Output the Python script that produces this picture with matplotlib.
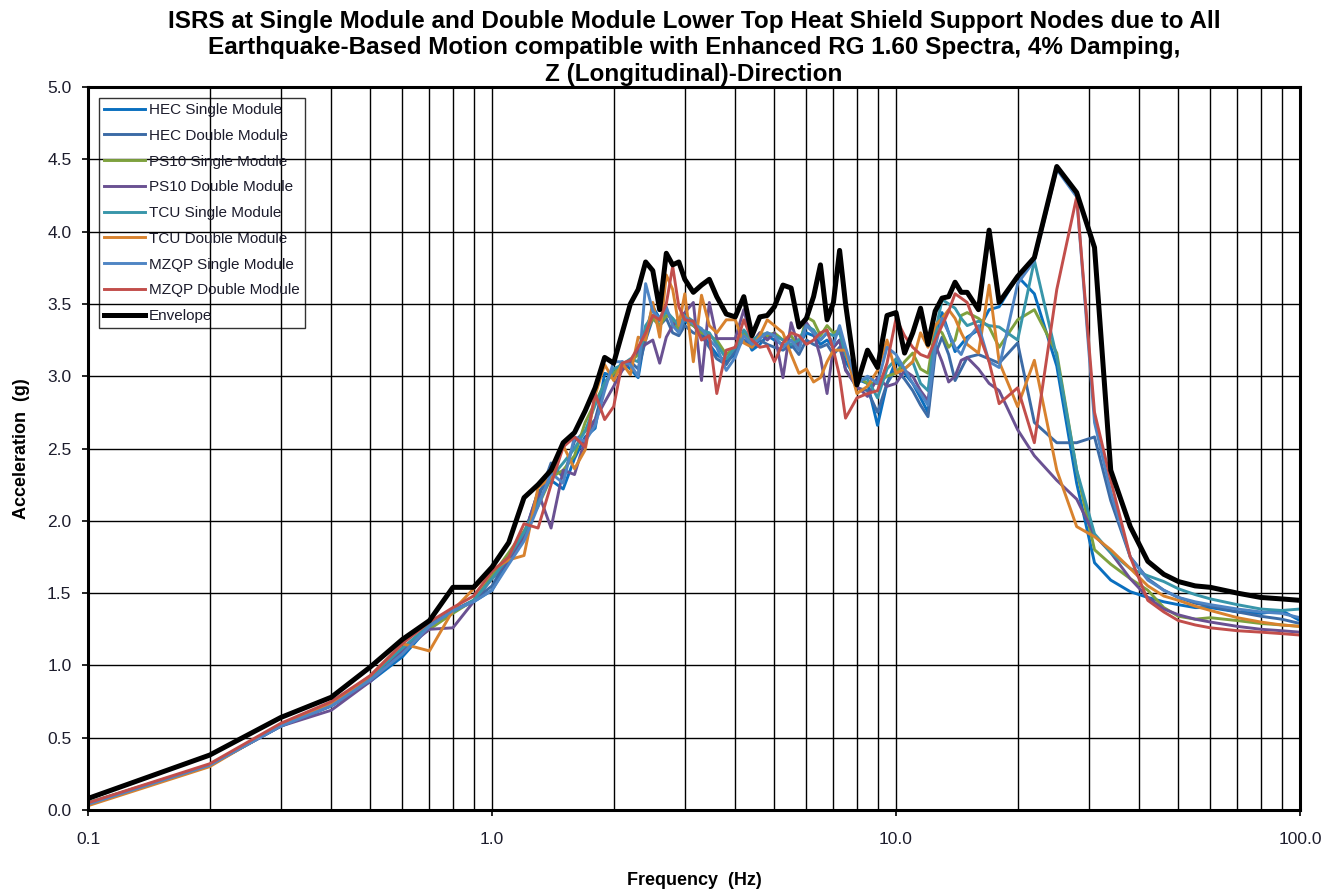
import matplotlib
matplotlib.use("Agg")
import matplotlib.pyplot as plt
from matplotlib.ticker import FixedLocator, NullFormatter

plt.rcParams['font.family'] = ['Liberation Sans', 'DejaVu Sans']

# frequencies (Hz) shared by every spectrum
freq = [0.1, 0.2, 0.3, 0.4, 0.5, 0.6, 0.7, 0.8, 0.9, 1.0,
        1.1, 1.2, 1.3, 1.4, 1.5, 1.6, 1.7, 1.8, 1.9, 2.0,
        2.1, 2.2, 2.3, 2.4, 2.5, 2.6, 2.7, 2.8, 2.9, 3.0,
        3.15, 3.3, 3.45, 3.6, 3.8, 4.0, 4.2, 4.4, 4.6, 4.8,
        5.0, 5.25, 5.5, 5.75, 6.0, 6.25, 6.5, 6.75, 7.0, 7.25,
        7.5, 8.0, 8.5, 9.0, 9.5, 10.0, 10.5, 11.0, 11.5, 12.0,
        12.5, 13.0, 13.5, 14.0, 14.5, 15.0, 16.0, 17.0, 18.0, 20.0,
        22.0, 25.0, 28.0, 31.0, 34.0, 38.0, 42.0, 46.0, 50.0, 55.0,
        60.0, 70.0, 80.0, 90.0, 100.0]

hec_single = [0.04, 0.31, 0.58, 0.72, 0.89, 1.06, 1.27, 1.38, 1.44, 1.52,
              1.72, 1.90, 2.20, 2.28, 2.22, 2.43, 2.58, 2.64, 3.02, 3.00,
              3.10, 3.05, 2.99, 3.30, 3.48, 3.40, 3.45, 3.38, 3.30, 3.38,
              3.35, 3.30, 3.22, 3.15, 3.10, 3.15, 3.30, 3.18, 3.22, 3.28,
              3.25, 3.22, 3.20, 3.22, 3.30, 3.28, 3.22, 3.25, 3.20, 3.25,
              3.10, 2.98, 2.95, 2.66, 2.95, 3.11, 3.02, 2.95, 2.85, 2.75,
              3.23, 3.44, 3.30, 3.17, 3.22, 3.27, 3.32, 3.46, 3.48, 3.69,
              3.57, 3.07, 2.26, 1.71, 1.59, 1.51, 1.47, 1.44, 1.42, 1.40,
              1.40, 1.37, 1.36, 1.38, 1.31]

hec_double = [0.04, 0.31, 0.58, 0.72, 0.90, 1.08, 1.28, 1.38, 1.45, 1.55,
              1.75, 1.88, 2.15, 2.40, 2.30, 2.55, 2.62, 2.70, 2.95, 3.05,
              3.05, 3.10, 3.05, 3.25, 3.40, 3.35, 3.40, 3.30, 3.28, 3.35,
              3.30, 3.28, 3.20, 3.12, 3.08, 3.18, 3.25, 3.20, 3.25, 3.22,
              3.20, 3.18, 3.22, 3.15, 3.25, 3.22, 3.20, 3.22, 3.15, 3.20,
              3.05, 2.92, 2.90, 2.75, 2.95, 3.05, 2.98, 2.90, 2.80, 2.72,
              3.15, 3.27, 3.15, 2.97, 3.05, 3.13, 3.15, 3.12, 3.09, 3.23,
              2.68, 2.54, 2.54, 2.58, 2.14, 1.75, 1.60, 1.52, 1.47, 1.43,
              1.41, 1.37, 1.34, 1.32, 1.29]

ps10_single = [0.05, 0.31, 0.59, 0.73, 0.92, 1.12, 1.25, 1.36, 1.45, 1.62,
               1.78, 1.93, 2.10, 2.30, 2.35, 2.45, 2.68, 2.82, 2.95, 3.02,
               3.08, 3.10, 3.15, 3.30, 3.40, 3.35, 3.42, 3.40, 3.32, 3.40,
               3.35, 3.30, 3.28, 3.25, 3.15, 3.20, 3.30, 3.22, 3.30, 3.28,
               3.30, 3.25, 3.28, 3.20, 3.41, 3.38, 3.28, 3.35, 3.30, 3.32,
               3.15, 3.00, 2.95, 2.95, 3.00, 3.02, 3.10, 3.16, 3.05, 3.02,
               3.34, 3.30, 3.20, 3.25, 3.42, 3.44, 3.40, 3.34, 3.20, 3.39,
               3.46, 3.16, 2.35, 1.80, 1.70, 1.60, 1.52, 1.40, 1.34, 1.32,
               1.33, 1.31, 1.29, 1.28, 1.27]

ps10_double = [0.04, 0.31, 0.58, 0.69, 0.89, 1.10, 1.25, 1.26, 1.44, 1.60,
               1.73, 1.90, 2.20, 1.95, 2.35, 2.32, 2.56, 2.70, 2.82, 2.93,
               3.04, 3.10, 3.18, 3.22, 3.25, 3.09, 3.27, 3.35, 3.40, 3.44,
               3.51, 2.97, 3.51, 3.26, 3.26, 3.26, 3.46, 3.23, 3.30, 3.25,
               3.30, 2.99, 3.37, 3.20, 3.37, 3.30, 3.13, 2.88, 3.20, 3.25,
               3.04, 2.93, 2.86, 2.99, 2.93, 2.95, 3.04, 3.00, 2.90, 2.83,
               3.22, 3.10, 2.96, 3.00, 3.11, 3.13, 3.05, 2.95, 2.90, 2.63,
               2.45, 2.28, 2.15, 1.90, 1.78, 1.60, 1.47, 1.39, 1.35, 1.32,
               1.30, 1.27, 1.25, 1.24, 1.23]

tcu_single = [0.05, 0.31, 0.59, 0.73, 0.92, 1.12, 1.28, 1.37, 1.45, 1.60,
              1.75, 1.92, 2.12, 2.30, 2.40, 2.50, 2.62, 2.80, 2.95, 3.05,
              3.08, 3.12, 3.10, 3.35, 3.42, 3.38, 3.45, 3.40, 3.35, 3.42,
              3.38, 3.32, 3.30, 3.22, 3.12, 3.20, 3.32, 3.25, 3.28, 3.30,
              3.28, 3.25, 3.22, 3.25, 3.35, 3.32, 3.25, 3.30, 3.28, 3.30,
              3.15, 2.98, 2.98, 2.85, 3.05, 3.12, 3.05, 3.10, 2.95, 2.90,
              3.30, 3.53, 3.50, 3.47, 3.40, 3.35, 3.38, 3.35, 3.34, 3.25,
              3.80, 3.13, 2.35, 1.91, 1.78, 1.67, 1.62, 1.58, 1.53, 1.49,
              1.46, 1.42, 1.39, 1.38, 1.39]

tcu_double = [0.03, 0.30, 0.59, 0.73, 0.93, 1.15, 1.10, 1.38, 1.53, 1.66,
              1.73, 1.76, 2.23, 2.30, 2.52, 2.36, 2.49, 2.87, 3.08, 2.97,
              3.09, 3.01, 3.27, 3.25, 3.51, 3.27, 3.70, 3.60, 3.35, 3.57,
              3.10, 3.56, 3.35, 3.30, 3.39, 3.39, 3.23, 3.20, 3.28, 3.39,
              3.35, 3.30, 3.15, 3.02, 3.05, 2.96, 2.99, 3.10, 3.18, 3.18,
              3.18, 2.88, 2.93, 3.04, 3.25, 3.02, 3.05, 3.10, 3.30, 3.20,
              3.35, 3.40, 3.46, 3.40, 3.30, 3.22, 3.16, 3.63, 3.10, 2.79,
              3.11, 2.35, 1.96, 1.89, 1.80, 1.67, 1.55, 1.48, 1.45, 1.41,
              1.38, 1.33, 1.30, 1.28, 1.27]

mzqp_single = [0.04, 0.31, 0.58, 0.72, 0.90, 1.08, 1.27, 1.38, 1.44, 1.52,
               1.70, 1.86, 2.10, 2.33, 2.26, 2.58, 2.55, 2.66, 2.90, 3.10,
               3.10, 3.08, 3.00, 3.64, 3.45, 3.40, 3.48, 3.35, 3.30, 3.41,
               3.36, 3.33, 3.25, 3.20, 3.04, 3.13, 3.28, 3.22, 3.26, 3.30,
               3.28, 3.20, 3.25, 3.18, 3.35, 3.30, 3.25, 3.30, 3.22, 3.35,
               3.20, 2.95, 3.00, 2.95, 3.20, 3.15, 3.05, 2.95, 2.88, 2.80,
               3.20, 3.40, 3.30, 3.20, 3.15, 3.25, 3.35, 3.10, 3.06, 3.64,
               3.80, 4.43, 4.24, 2.68, 2.20, 1.75, 1.59, 1.52, 1.47, 1.44,
               1.42, 1.39, 1.37, 1.36, 1.33]

mzqp_double = [0.05, 0.32, 0.60, 0.75, 0.93, 1.15, 1.30, 1.40, 1.48, 1.65,
               1.75, 1.98, 1.95, 2.25, 2.51, 2.58, 2.51, 2.88, 2.70, 2.79,
               3.09, 3.11, 3.20, 3.30, 3.42, 3.39, 3.50, 3.76, 3.48, 3.39,
               3.38, 3.25, 3.28, 2.88, 3.18, 3.20, 3.39, 3.25, 3.20, 3.21,
               3.10, 3.23, 3.30, 3.28, 3.22, 3.25, 3.30, 3.32, 3.18, 3.00,
               2.71, 2.85, 2.88, 2.90, 3.09, 3.40, 3.28, 3.20, 3.15, 3.13,
               3.25, 3.35, 3.45, 3.57, 3.54, 3.51, 3.30, 3.10, 2.81, 2.92,
               2.54, 3.60, 4.24, 2.75, 2.28, 1.75, 1.45, 1.37, 1.31, 1.28,
               1.26, 1.24, 1.23, 1.22, 1.21]

envelope = [0.08, 0.38, 0.64, 0.78, 0.99, 1.18, 1.31, 1.54, 1.54, 1.68,
            1.85, 2.16, 2.25, 2.35, 2.54, 2.61, 2.76, 2.92, 3.13, 3.09,
            3.30, 3.50, 3.60, 3.79, 3.73, 3.46, 3.85, 3.77, 3.79, 3.67,
            3.58, 3.63, 3.67, 3.55, 3.43, 3.41, 3.55, 3.28, 3.41, 3.42,
            3.48, 3.63, 3.61, 3.34, 3.40, 3.55, 3.77, 3.39, 3.51, 3.87,
            3.50, 2.94, 3.18, 3.06, 3.42, 3.44, 3.16, 3.30, 3.47, 3.22,
            3.45, 3.54, 3.55, 3.65, 3.58, 3.58, 3.46, 4.01, 3.51, 3.69,
            3.82, 4.45, 4.27, 3.89, 2.35, 1.96, 1.72, 1.63, 1.58, 1.55,
            1.54, 1.50, 1.47, 1.46, 1.45]

series = [
    ("HEC Single Module", hec_single, "#0A6FBF"),
    ("HEC Double Module", hec_double, "#3C6BA6"),
    ("PS10 Single Module", ps10_single, "#7EA13E"),
    ("PS10 Double Module", ps10_double, "#6A5192"),
    ("TCU Single Module", tcu_single, "#3896AA"),
    ("TCU Double Module", tcu_double, "#D8822E"),
    ("MZQP Single Module", mzqp_single, "#4F85C4"),
    ("MZQP Double Module", mzqp_double, "#C24E4B"),
]

txt_col = "#1c1c2c"

fig = plt.figure(figsize=(13.26, 8.93), dpi=100)
ax = fig.add_axes([0.0664, 0.0929, 0.9140, 0.8097])

for name, vals, col in series:
    ax.plot(freq, vals, color=col, lw=2.1, label=name)
ax.plot(freq, envelope, color="black", lw=3.6, label="Envelope")

ax.set_xscale("log")
ax.set_xlim(0.1, 100)
ax.set_ylim(0, 5)

ax.xaxis.set_major_locator(FixedLocator([0.1, 1, 10, 100]))
ax.set_xticklabels(["0.1", "1.0", "10.0", "100.0"])
minors = [m * d for d in [0.1, 1, 10] for m in range(2, 10)]
ax.xaxis.set_minor_locator(FixedLocator(minors))
ax.xaxis.set_minor_formatter(NullFormatter())
ax.set_yticks([i * 0.5 for i in range(11)])
ax.set_yticklabels([f"{i * 0.5:.1f}" for i in range(11)])

ax.grid(True, which="major", color="black", lw=1.0)
ax.grid(True, which="minor", axis="x", color="black", lw=1.0)
ax.tick_params(axis="both", which="major", labelsize=12.5, length=4, width=1.2,
               labelcolor=txt_col)
ax.tick_params(axis="x", which="major", pad=12)
ax.tick_params(axis="y", which="major", pad=8)
ax.tick_params(axis="x", which="minor", length=0)
for sp in ax.spines.values():
    sp.set_linewidth(2.2)

ax.set_xlabel("Frequency  (Hz)", fontsize=13, fontweight="bold", labelpad=18)
ax.set_ylabel("Acceleration  (g)", fontsize=13, fontweight="bold", labelpad=12)

# title centred over the plotting area
fig.text(0.5234, 0.989,
         "ISRS at Single Module and Double Module Lower Top Heat Shield Support Nodes due to All\n"
         "Earthquake-Based Motion compatible with Enhanced RG 1.60 Spectra, 4% Damping,\n"
         "Z (Longitudinal)-Direction",
         ha="center", va="top", fontsize=17.5, fontweight="bold", linespacing=1.2)

leg = ax.legend(loc="upper left", fontsize=11, frameon=True, fancybox=False,
                borderaxespad=0.7, labelspacing=0.77, handlelength=2.7,
                handletextpad=0.25, borderpad=0.35)
leg.get_frame().set_facecolor("none")
leg.get_frame().set_edgecolor("black")
leg.get_frame().set_linewidth(1.0)
for t in leg.get_texts():
    t.set_color(txt_col)

fig.savefig("out.png", dpi=100)
